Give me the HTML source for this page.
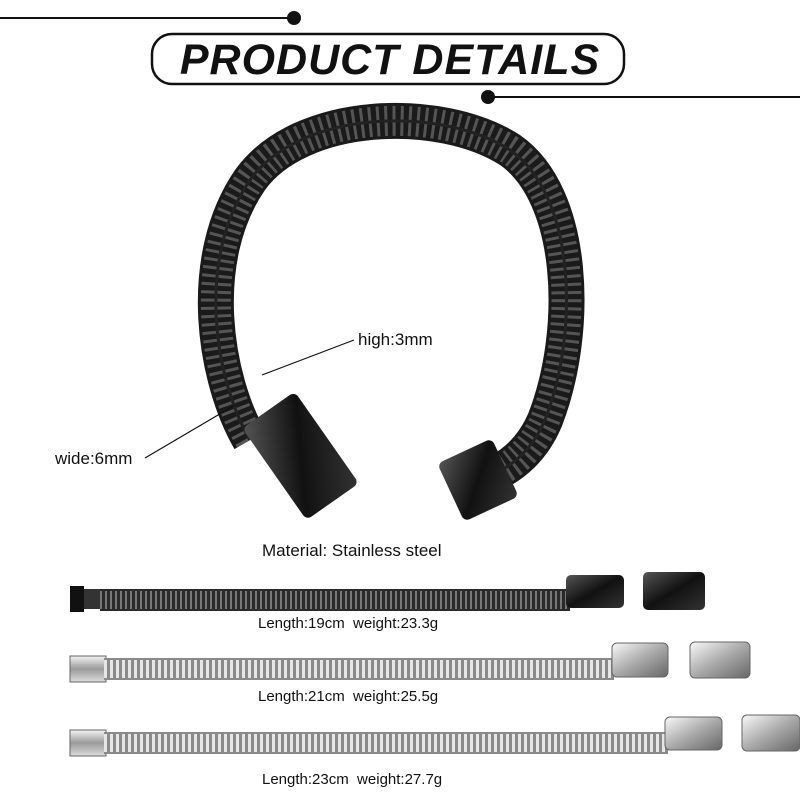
<!DOCTYPE html>
<html><head><meta charset="utf-8"><style>
html,body{margin:0;padding:0;background:#fff;}
svg{display:block}
text{font-family:"Liberation Sans",Arial,sans-serif;fill:#111}
</style></head><body>
<svg width="800" height="800" viewBox="0 0 800 800" xmlns="http://www.w3.org/2000/svg">
<defs>
<linearGradient id="blk" x1="0" y1="0" x2="1" y2="1"><stop offset="0" stop-color="#555"/><stop offset="0.5" stop-color="#111"/><stop offset="1" stop-color="#333"/></linearGradient>
<linearGradient id="sil" x1="0" y1="0" x2="0" y2="1"><stop offset="0" stop-color="#f4f4f4"/><stop offset="0.5" stop-color="#9a9a9a"/><stop offset="1" stop-color="#dcdcdc"/></linearGradient>
<linearGradient id="sil2" x1="0" y1="0" x2="1" y2="1"><stop offset="0" stop-color="#fafafa"/><stop offset="0.5" stop-color="#aaa"/><stop offset="1" stop-color="#666"/></linearGradient>
</defs>
<!-- header -->
<line x1="0" y1="18" x2="292" y2="18" stroke="#111" stroke-width="2"/>
<circle cx="294" cy="18" r="7" fill="#111"/>
<rect x="152" y="34" width="472" height="50" rx="20" fill="#fff" stroke="#111" stroke-width="2.5"/>
<text x="390" y="74" font-size="43" font-weight="bold" font-style="italic" text-anchor="middle" style="letter-spacing:1px">PRODUCT DETAILS</text>
<line x1="488" y1="97" x2="800" y2="97" stroke="#111" stroke-width="2"/>
<circle cx="488" cy="97" r="7" fill="#111"/>

<!-- black bracelet arc -->
<path d="M250 440 C215 380 195 260 250 180 C300 110 440 105 510 150 C575 195 580 330 545 420 C530 455 505 470 490 475" fill="none" stroke="#1a1a1a" stroke-width="36"/>
<path d="M250 440 C215 380 195 260 250 180 C300 110 440 105 510 150 C575 195 580 330 545 420 C530 455 505 470 490 475" fill="none" stroke="#555" stroke-width="30" stroke-dasharray="3 5"/>
<path d="M250 440 C215 380 195 260 250 180 C300 110 440 105 510 150 C575 195 580 330 545 420 C530 455 505 470 490 475" fill="none" stroke="#222" stroke-width="3"/>
<!-- clasps -->
<g transform="translate(300,455) rotate(-35)"><rect x="-32" y="-55" width="64" height="112" rx="6" fill="url(#blk)"/></g>
<g transform="translate(478,480) rotate(-25)"><rect x="-30" y="-32" width="60" height="64" rx="6" fill="url(#blk)"/></g>

<!-- dimension lines -->
<line x1="354" y1="340" x2="262" y2="375" stroke="#111" stroke-width="1.2"/>
<text x="358" y="345" font-size="17">high:3mm</text>
<line x1="145" y1="458" x2="235" y2="405" stroke="#111" stroke-width="1.2"/>
<text x="55" y="464" font-size="17">wide:6mm</text>

<text x="262" y="556" font-size="17">Material: Stainless steel</text>

<!-- black straight -->
<rect x="70" y="586" width="14" height="26" fill="#111"/>
<rect x="84" y="589" width="20" height="20" fill="#333"/>
<rect x="100" y="589" width="470" height="22" fill="#2a2a2a"/>
<line x1="100" y1="600" x2="570" y2="600" stroke="#777" stroke-width="18" stroke-dasharray="2 3"/>
<rect x="566" y="575" width="58" height="33" rx="5" fill="url(#blk)"/>
<rect x="643" y="572" width="62" height="38" rx="5" fill="url(#blk)"/>
<text x="258" y="628" font-size="15" style="white-space:pre" xml:space="preserve">Length:19cm  weight:23.3g</text>

<!-- silver 21 -->
<rect x="70" y="656" width="36" height="26" fill="url(#sil)" stroke="#666"/>
<rect x="104" y="658" width="510" height="22" fill="#8a8a8a"/>
<line x1="104" y1="669" x2="614" y2="669" stroke="#e6e6e6" stroke-width="18" stroke-dasharray="3 3"/>
<rect x="612" y="643" width="56" height="34" rx="5" fill="url(#sil2)" stroke="#666"/>
<rect x="690" y="642" width="60" height="36" rx="5" fill="url(#sil2)" stroke="#666"/>
<text x="258" y="701" font-size="15" xml:space="preserve">Length:21cm  weight:25.5g</text>

<!-- silver 23 -->
<rect x="70" y="730" width="36" height="26" fill="url(#sil)" stroke="#666"/>
<rect x="104" y="732" width="564" height="22" fill="#8a8a8a"/>
<line x1="104" y1="743" x2="668" y2="743" stroke="#e6e6e6" stroke-width="18" stroke-dasharray="3 3"/>
<rect x="665" y="717" width="57" height="33" rx="5" fill="url(#sil2)" stroke="#666"/>
<rect x="742" y="715" width="58" height="36" rx="5" fill="url(#sil2)" stroke="#666"/>
<text x="262" y="784" font-size="15" xml:space="preserve">Length:23cm  weight:27.7g</text>
</svg>
</body></html>
